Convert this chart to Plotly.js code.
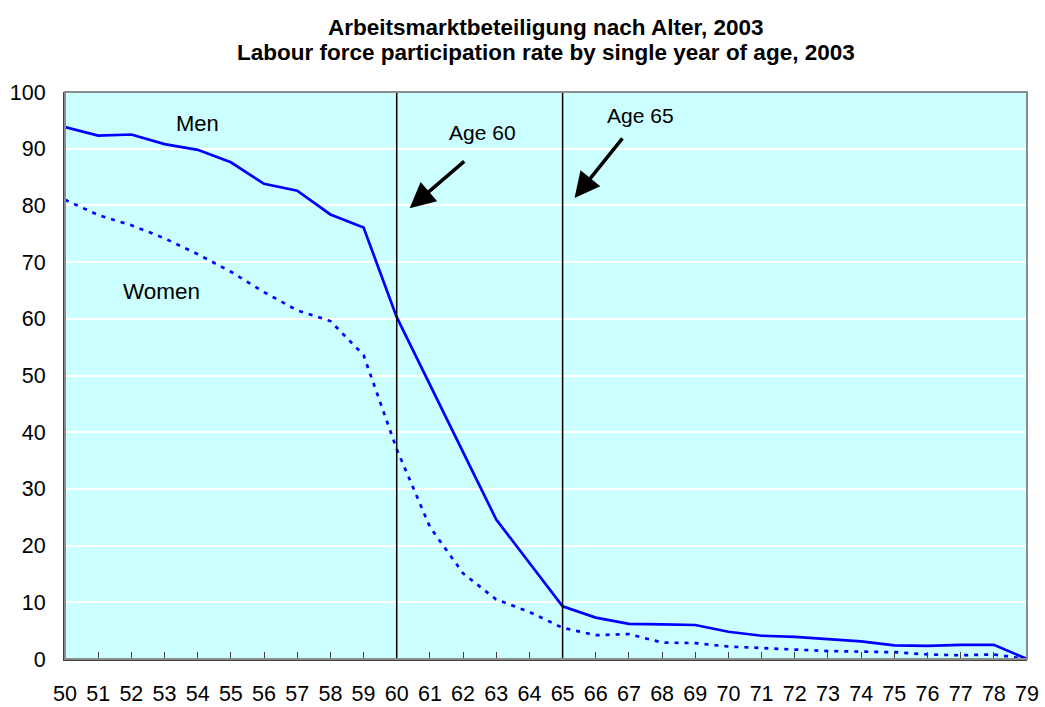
<!DOCTYPE html>
<html>
<head>
<meta charset="utf-8">
<script src="https://cdn.plot.ly/plotly-3.0.1.min.js"></script>
<style>
  body { margin: 0; background: #fff; }
  #chart { width: 1045px; height: 707px; }
</style>
</head>
<body>
<div id="chart"></div>
<script>
// ages 50..79
let ages = [50, 51, 52, 53, 54, 55, 56, 57, 58, 59, 60, 61, 62, 63, 64,
            65, 66, 67, 68, 69, 70, 71, 72, 73, 74, 75, 76, 77, 78, 79];

// participation rate, %
let men = [93.8, 92.3, 92.5, 90.8, 89.8, 87.6, 83.8, 82.6, 78.4, 76.1,
           60.3, 48.5, 36.5, 24.6, 17.0, 9.3, 7.3, 6.2, 6.1, 6.0,
           4.8, 4.1, 3.9, 3.5, 3.1, 2.4, 2.3, 2.5, 2.5, 0.0];
let women = [81.0, 78.3, 76.5, 74.2, 71.4, 68.3, 64.7, 61.5, 59.6, 53.6,
             37.0, 23.3, 15.1, 10.5, 8.3, 5.5, 4.2, 4.4, 2.9, 2.8,
             2.2, 1.9, 1.6, 1.4, 1.3, 1.2, 0.8, 0.65, 0.8, 0.0];

let markerAges = [60, 65];
let titleLines = ["Arbeitsmarktbeteiligung nach Alter, 2003",
                  "Labour force participation rate by single year of age, 2003"];

let traces = [
  {
    x: ages, y: men, type: "scatter", mode: "lines", name: "Men",
    line: { color: "#0000FF", width: 2.7 },
    hoverinfo: "x+y"
  },
  {
    x: ages, y: women, type: "scatter", mode: "lines", name: "Women",
    line: { color: "#0000FF", width: 2.7, dash: "4px,6px" },
    hoverinfo: "x+y"
  }
];

// vertical lines at 60 and 65 + plot frame
let shapes = markerAges.map(a => ({
  type: "line", xref: "x", yref: "y", x0: a, x1: a, y0: 0, y1: 100,
  line: { color: "#000000", width: 1.5 }
}));
shapes.push({
  type: "rect", xref: "paper", yref: "paper", x0: 0, x1: 1, y0: 0, y1: 1,
  line: { color: "#8c8c8c", width: 2 }, layer: "above"
});

let txt = { family: "Liberation Sans, Arial, sans-serif", size: 21, color: "#000" };

let annotations = [
  // title, two lines
  { xref: "paper", yref: "paper", x: 0.5, y: 1.113, yanchor: "middle", showarrow: false,
    text: "<b>" + titleLines[0] + "</b>", font: { ...txt, size: 22.5 } },
  { xref: "paper", yref: "paper", x: 0.5, y: 1.069, yanchor: "middle", showarrow: false,
    text: "<b>" + titleLines[1] + "</b>", font: { ...txt, size: 22.5 } },
  { x: 53.98, y: 94.5, text: "Men", showarrow: false, font: { ...txt, size: 22 } },
  { x: 52.92, y: 64.9, text: "Women", showarrow: false, font: { ...txt, size: 22.5 } },
  { x: 62.59, y: 92.9, text: "Age 60", showarrow: false, font: txt },
  { x: 67.35, y: 95.8, text: "Age 65", showarrow: false, font: txt },
  // arrows
  { x: 60.39, y: 79.5, ax: 62.08, ay: 88.0, axref: "x", ayref: "y", text: "",
    showarrow: true, arrowhead: 2, arrowsize: 1.45, arrowwidth: 3.5, arrowcolor: "#000" },
  { x: 65.36, y: 81.3, ax: 66.84, ay: 92.1, axref: "x", ayref: "y", text: "",
    showarrow: true, arrowhead: 2, arrowsize: 1.45, arrowwidth: 3.5, arrowcolor: "#000" }
];

let layout = {
  width: 1045, height: 707,
  margin: { l: 65, r: 18, t: 92, b: 48 },
  paper_bgcolor: "#ffffff",
  plot_bgcolor: "#CCFFFF",
  showlegend: false,
  font: txt,
  xaxis: {
    range: [50, 79], tickmode: "array", tickvals: ages, ticktext: ages.map(String),
    showgrid: false, zeroline: false,
    ticks: "inside", ticklen: 7, tickcolor: "#404040",
    showline: true, linecolor: "#404040", linewidth: 2,
    ticklabelstandoff: 14,
    tickfont: { ...txt, size: 21.5 }
  },
  yaxis: {
    range: [0, 100], dtick: 10, tick0: 0,
    showgrid: true, gridcolor: "#ffffff", gridwidth: 2,
    zeroline: false, ticks: "", ticklen: 0,
    showline: true, linecolor: "#404040", linewidth: 2,
    ticklabelstandoff: 13,
    tickfont: { ...txt, size: 21.5 }
  },
  shapes: shapes,
  annotations: annotations
};

Plotly.newPlot("chart", traces, layout, { displayModeBar: false });
</script>
</body>
</html>
